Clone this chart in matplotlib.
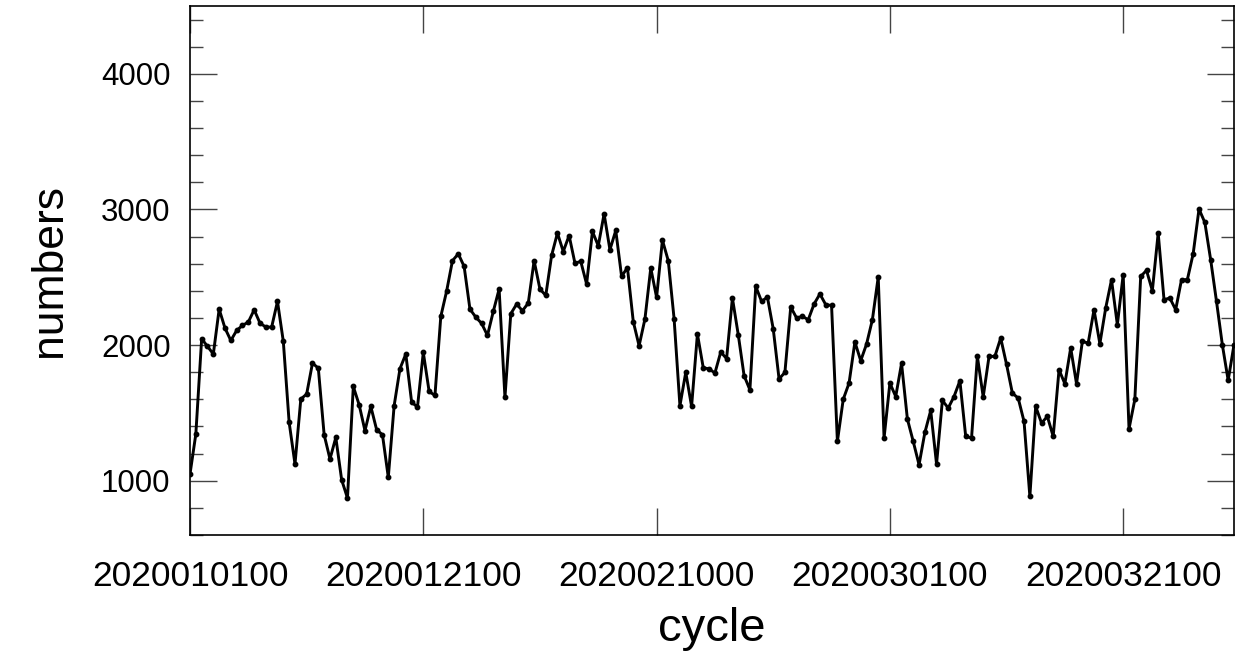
import matplotlib
matplotlib.use("Agg")
import matplotlib.pyplot as plt
from matplotlib.ticker import MultipleLocator

# 12-hourly analysis cycles, 2020010100 .. 2020033012
cycle_labels = ["2020010100", "2020012100", "2020021000", "2020030100", "2020032100"]
label_index = [0, 40, 80, 120, 160]

numbers = [
    1049, 1344, 2047, 1990, 1934, 2265, 2125, 2034, 2108, 2145,
    2170, 2260, 2162, 2133, 2133, 2322, 2027, 1430, 1123, 1602,
    1639, 1867, 1830, 1339, 1160, 1319, 1007, 872, 1695, 1560,
    1369, 1548, 1376, 1339, 1025, 1553, 1826, 1934, 1580, 1543,
    1946, 1658, 1629, 2211, 2398, 2622, 2673, 2580, 2265, 2206,
    2160, 2071, 2248, 2413, 1614, 2231, 2302, 2253, 2310, 2622,
    2413, 2366, 2661, 2826, 2690, 2808, 2604, 2617, 2450, 2838,
    2732, 2968, 2703, 2845, 2506, 2572, 2174, 1995, 2192, 2568,
    2352, 2774, 2622, 2195, 1553, 1799, 1548, 2082, 1833, 1825,
    1794, 1949, 1900, 2347, 2077, 1775, 1670, 2433, 2322, 2354,
    2119, 1750, 1799, 2281, 2200, 2212, 2187, 2303, 2377, 2298,
    2292, 1290, 1600, 1720, 2023, 1885, 2008, 2187, 2502, 1315,
    1720, 1621, 1865, 1455, 1290, 1118, 1356, 1518, 1123, 1592,
    1536, 1621, 1737, 1327, 1315, 1917, 1618, 1917, 1917, 2052,
    1858, 1646, 1609, 1437, 884, 1548, 1425, 1474, 1327, 1818,
    1715, 1979, 1715, 2027, 2015, 2261, 2010, 2273, 2482, 2150,
    2519, 1383, 1600, 2506, 2551, 2401, 2826, 2335, 2347, 2261,
    2482, 2482, 2674, 3003, 2904, 2629, 2322, 2003, 1740, 2003,
]

plt.rcParams["font.family"] = ["Liberation Sans", "DejaVu Sans"]

fig = plt.figure(figsize=(12.36, 6.61), dpi=100)
ax = fig.add_axes([190 / 1236, 1 - 535 / 661, 1044 / 1236, 529 / 661])

x = list(range(len(numbers)))
ax.plot(x, numbers, color="black", linewidth=2.1, marker="o", markersize=3.2)

ax.set_xlim(0, len(numbers) - 1)
ax.set_ylim(600, 4500)
ax.set_xticks(label_index)
ax.set_xticklabels(cycle_labels)
ax.yaxis.set_major_locator(MultipleLocator(1000))
ax.yaxis.set_minor_locator(MultipleLocator(200))

ax.tick_params(axis="both", which="both", direction="in", top=True, right=True,
               color="#444444", width=1.0)
ax.tick_params(axis="both", which="major", length=19.5)
ax.tick_params(axis="y", which="minor", length=9.5)
ax.tick_params(axis="x", which="major", pad=18, labelsize=25.5)
ax.tick_params(axis="y", which="major", pad=14, labelsize=22.5)
for s in ax.spines.values():
    s.set_linewidth(1.2)

ax.set_xlabel("cycle", fontsize=34, labelpad=10)
ax.set_ylabel("numbers", fontsize=32, labelpad=22)

fig.savefig("out.png", dpi=100)
